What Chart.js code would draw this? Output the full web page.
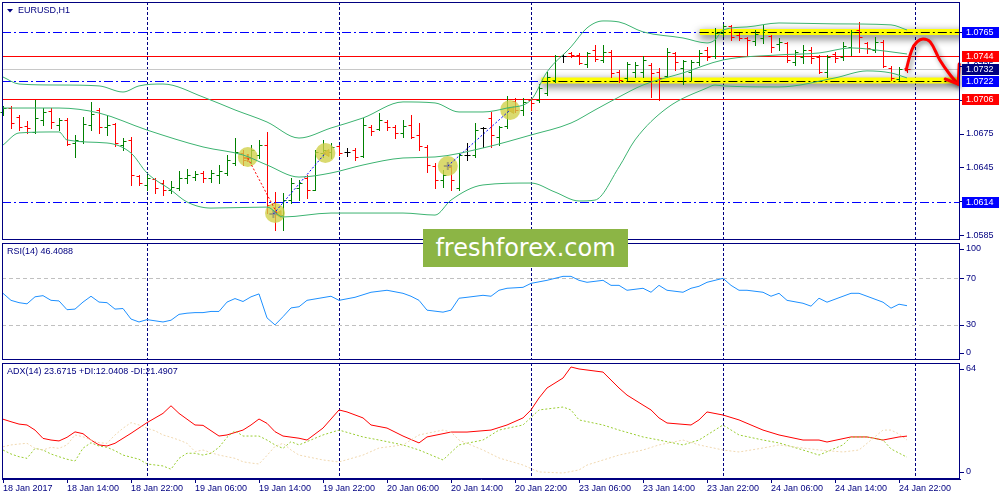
<!DOCTYPE html>
<html><head><meta charset="utf-8">
<script src="https://cdn.jsdelivr.net/npm/chart.js@4.4.1/dist/chart.umd.min.js"></script>
<style>
html,body{margin:0;padding:0;background:#fff;}
body{width:1000px;height:500px;position:relative;overflow:hidden;}
canvas{position:absolute;left:0;}
#wm{position:absolute;left:423px;top:229px;width:205px;height:38px;background:#8cb545;color:#fff;font:24px 'DejaVu Sans',sans-serif;line-height:38px;text-align:center;z-index:5;}
</style></head><body>
<canvas id="c1" width="1000" height="242" style="top:0"></canvas>
<canvas id="c2" width="1000" height="119" style="top:242px"></canvas>
<canvas id="c3" width="1000" height="138" style="top:362px"></canvas>
<div id="wm">freshforex.com</div>
<script>
// ---------------- DATA ----------------
const symbolTitle = 'EURUSD,H1';
const rsiTitle = 'RSI(14) 46.4088';
const adxTitle = 'ADX(14) 23.6715 +DI:12.0408 -DI:21.4907';

const xLabels = ['18 Jan 2017','18 Jan 14:00','18 Jan 22:00','19 Jan 06:00','19 Jan 14:00','19 Jan 22:00','20 Jan 06:00','20 Jan 14:00','20 Jan 22:00','23 Jan 06:00','23 Jan 14:00','23 Jan 22:00','24 Jan 06:00','24 Jan 14:00','24 Jan 22:00'];
const xLabelIdx = [0,8,16,24,32,40,48,56,64,72,80,88,96,104,112];
const daySeparatorIdx = [18,42,66,90,114];

const opens = [1.06941,1.06976,1.06897,1.06817,1.06764,1.06870,1.06950,1.06826,1.06870,1.06666,
1.06684,1.06826,1.06959,1.06808,1.06835,1.06648,1.06693,1.06373,1.06294,1.06347,
1.06311,1.06249,1.06267,1.06356,1.06364,1.06400,1.06356,1.06382,1.06400,1.06489,
1.06577,1.06533,1.06560,1.06648,1.06134,1.06027,1.06160,1.06267,1.06356,1.06249,
1.06577,1.06586,1.06639,1.06586,1.06604,1.06551,1.06808,1.06790,1.06852,1.06808,
1.06755,1.06826,1.06737,1.06631,1.06462,1.06338,1.06453,1.06267,1.06560,1.06560,
1.06799,1.06888,1.06719,1.06817,1.07039,1.06959,1.07047,1.07047,1.07110,1.07225,
1.07438,1.07464,1.07447,1.07367,1.07491,1.07402,1.07473,1.07296,1.07243,1.07296,
1.07296,1.07358,1.07296,1.07260,1.07464,1.07331,1.07296,1.07385,1.07491,1.07438,
1.07642,1.07704,1.07624,1.07597,1.07571,1.07597,1.07615,1.07544,1.07553,1.07385,
1.07429,1.07491,1.07429,1.07296,1.07455,1.07429,1.07518,1.07668,1.07553,1.07491,
1.07562,1.07331,1.07234,1.07331];
const highs = [1.06994,1.06994,1.06914,1.06861,1.07047,1.06976,1.06976,1.06888,1.06888,1.06737,
1.06897,1.07030,1.06976,1.06914,1.06843,1.06710,1.06719,1.06382,1.06382,1.06356,
1.06338,1.06329,1.06418,1.06435,1.06418,1.06418,1.06427,1.06471,1.06560,1.06710,
1.06604,1.06648,1.06693,1.06764,1.06231,1.06223,1.06356,1.06338,1.06382,1.06604,
1.06693,1.06666,1.06648,1.06622,1.06622,1.06888,1.06826,1.06932,1.06870,1.06826,
1.06870,1.06914,1.06843,1.06648,1.06489,1.06427,1.06471,1.06577,1.06666,1.06843,
1.06808,1.06941,1.06817,1.07083,1.07065,1.07065,1.07065,1.07189,1.07296,1.07447,
1.07455,1.07473,1.07464,1.07473,1.07535,1.07535,1.07491,1.07314,1.07385,1.07385,
1.07438,1.07376,1.07331,1.07509,1.07473,1.07402,1.07402,1.07491,1.07518,1.07686,
1.07722,1.07713,1.07642,1.07606,1.07668,1.07713,1.07624,1.07597,1.07562,1.07491,
1.07535,1.07518,1.07447,1.07447,1.07473,1.07562,1.07668,1.07739,1.07562,1.07606,
1.07580,1.07349,1.07340,1.07340];
const lows = [1.06914,1.06799,1.06781,1.06755,1.06755,1.06826,1.06799,1.06781,1.06648,1.06542,
1.06666,1.06781,1.06755,1.06737,1.06639,1.06604,1.06294,1.06294,1.06249,1.06223,
1.06205,1.06223,1.06249,1.06311,1.06338,1.06320,1.06320,1.06311,1.06382,1.06471,
1.06471,1.06489,1.06533,1.06045,1.05894,1.05894,1.06134,1.06160,1.06178,1.06249,
1.06542,1.06533,1.06560,1.06551,1.06515,1.06542,1.06737,1.06781,1.06781,1.06710,
1.06719,1.06710,1.06604,1.06409,1.06267,1.06276,1.06249,1.06249,1.06515,1.06542,
1.06631,1.06631,1.06648,1.06799,1.06941,1.06914,1.06959,1.07030,1.07092,1.07207,
1.07385,1.07429,1.07367,1.07340,1.07393,1.07385,1.07251,1.07207,1.07225,1.07251,
1.07251,1.07074,1.07047,1.07251,1.07314,1.07189,1.07225,1.07358,1.07402,1.07420,
1.07615,1.07580,1.07580,1.07447,1.07535,1.07553,1.07473,1.07491,1.07385,1.07358,
1.07376,1.07376,1.07287,1.07251,1.07385,1.07402,1.07447,1.07473,1.07464,1.07473,
1.07340,1.07225,1.07225,1.07296];
const closes = [1.06976,1.06843,1.06808,1.06799,1.06888,1.06941,1.06852,1.06870,1.06657,1.06693,
1.06835,1.06923,1.06808,1.06826,1.06666,1.06684,1.06382,1.06311,1.06356,1.06267,
1.06249,1.06276,1.06356,1.06382,1.06391,1.06356,1.06400,1.06418,1.06515,1.06586,
1.06515,1.06604,1.06648,1.06116,1.06045,1.06160,1.06311,1.06311,1.06249,1.06586,
1.06604,1.06631,1.06577,1.06586,1.06542,1.06826,1.06772,1.06870,1.06808,1.06755,
1.06817,1.06719,1.06639,1.06471,1.06338,1.06382,1.06338,1.06560,1.06560,1.06781,
1.06799,1.06737,1.06808,1.06976,1.06959,1.07030,1.07021,1.07154,1.07251,1.07438,
1.07438,1.07447,1.07376,1.07464,1.07411,1.07473,1.07287,1.07225,1.07367,1.07358,
1.07402,1.07287,1.07243,1.07473,1.07385,1.07393,1.07385,1.07464,1.07429,1.07642,
1.07704,1.07606,1.07597,1.07580,1.07633,1.07668,1.07518,1.07562,1.07402,1.07473,
1.07491,1.07420,1.07296,1.07429,1.07420,1.07526,1.07651,1.07606,1.07509,1.07562,
1.07349,1.07243,1.07322,1.07322];

const bbUpperIdx = [0,2,7,12,15,17,20,25,29,33,37,41,45,50,54,57,60,63,66,68,71,73,75,77,80,85,88,89,90,93,97,104,111,113];
const bbUpperVal = [1.07251,1.07189,1.07180,1.07172,1.07118,1.07172,1.07189,1.07074,1.06959,1.06852,1.06710,1.06799,1.06888,1.07030,1.07021,1.06941,1.06941,1.06976,1.07047,1.07296,1.07518,1.07686,1.07748,1.07739,1.07651,1.07597,1.07553,1.07580,1.07668,1.07695,1.07730,1.07722,1.07713,1.07668];
const bbMidIdx = [0,7,12,18,25,30,33,37,41,45,50,54,60,66,71,74,77,80,85,90,97,102,106,108,113];
const bbMidVal = [1.06976,1.06976,1.06932,1.06781,1.06631,1.06560,1.06471,1.06364,1.06400,1.06471,1.06533,1.06542,1.06622,1.06737,1.06843,1.06959,1.07074,1.07180,1.07287,1.07402,1.07447,1.07464,1.07509,1.07500,1.07455];
const bbLowIdx = [0,2,7,8,13,16,18,21,23,26,33,35,41,50,54,56,60,66,69,72,74,77,79,83,88,89,90,97,104,108,111,113];
const bbLowVal = [1.06648,1.06755,1.06764,1.06693,1.06666,1.06577,1.06400,1.06249,1.06143,1.06089,1.06098,1.06010,1.06045,1.06045,1.06027,1.06160,1.06294,1.06311,1.06231,1.06152,1.06160,1.06453,1.06693,1.06976,1.07154,1.07180,1.07172,1.07163,1.07243,1.07305,1.07287,1.07243];

const priceTicks = [1.0585,1.0615,1.0645,1.0675,1.0705,1.0735,1.0765];
const levelPrices = [1.0765,1.0744,1.0732,1.0722,1.0706,1.0614];
const levelKinds = ['support','pivot','bid','support','pivot','support'];
const zonePrices = [1.0765,1.0722];
const zoneStartIdx = [87.1,67.3];

const tradeCircleIdx = [30.6,34.0,40.3,55.6,63.4];
const tradeCirclePrice = [1.06542,1.06045,1.06577,1.06462,1.06959];
const sellOpenIdx = [30.6], sellOpenPrice = [1.06533];
const buyOpenIdx = [33.8,55.6], buyOpenPrice = [1.06036,1.06462];
const closeIdx = [34.5,40.5,63.6], closePrice = [1.06036,1.06577,1.06959];
const sellTradeIdx = [30.6,34.3], sellTradePrice = [1.06533,1.06036];
const buyTrade1Idx = [33.8,40.3], buyTrade1Price = [1.06036,1.06577];
const buyTrade2Idx = [55.6,63.4], buyTrade2Price = [1.06462,1.06959];

const forecastIdx = [112.9,113.6,114.25,115,115.9,117.1,118.4,119.4];
const forecastPrice = [1.07314,1.07491,1.07562,1.07589,1.07562,1.07402,1.07269,1.07189];

const rsiIdx = [0,1,2,3,4,5,6,7,8,9,10,11,12,13,14,15,16,17,18,19,20,21,22,23,24,25,26,27,28,29,30,31,32,33,34,35,36,37,
38,41,42,44,46,48,50,51,52,53,55,56,57,58,60,61,62,63,65,66,68,70,71,72,73,75,76,77,78,80,81,82,83,85,86,87,88,90,91,92,93,95,96,97,98,100,101,102,103,105,106,107,108,110,111,112,113];
const rsiVal = [57,51,49,48,54,55,51,50.5,43,43.5,49.5,54.5,49.5,49,43.5,44,35,32.5,34.5,33.5,32.5,34,39,40,40.5,40.5,41.5,41.5,49.5,52.5,50,54,56.5,36,30,37,44.5,45.5,
51,54.5,51,53.6,57.9,59.6,57,54.5,51,42.6,40.9,42.6,52.8,53.6,55.3,54.5,59.6,61.3,62.1,65.5,68.1,71.5,71.5,68.1,66.4,68.1,63.8,63.8,59.6,61.3,57.9,63.8,59.6,57.9,61.3,63,66.4,69.8,63.8,59.6,59.6,57.9,54.5,57,51,48.5,46,52.8,49.4,54.5,57,57,54.5,49.4,44.3,47.7,46.41];
const rsiLevels = [70,30];
const rsiTicks = [100,70,30,0];

const adxIdx = [0,1,2,3,4,5,6,7,8,9,10,11,12,13,14,16,18,20,21,22,24,25,27,28,30,31,32,33,34,35,37,38,40,42,43,45,46,48,50,52,53,56,58,61,63,65,66,67,68,70,71,72,75,76,77,78,80,81,82,83,86,87,88,90,92,95,97,100,102,103,106,108,110,112,113];
const adxVal = [33,31.6,30.3,29.8,27,22.4,21.5,21,23,26,25,21.5,18.8,18.2,19.7,25.2,31.1,36.2,40.4,36.2,29.8,29.6,23.7,24.3,27,29.8,33.1,30.7,26.1,23.7,22.5,21.5,28.1,38.1,37,33.7,29.8,28.1,23.7,19.9,23.2,25.9,25.9,27,29.8,33.7,38.1,44.7,50.2,55.7,61.8,60.7,59,54.6,50.2,46.3,40.8,38.1,33.7,30.9,29.8,32.6,37,35.3,32.6,27,24.3,21.5,21.5,20.4,23.2,23.2,21.5,23.2,23.67];
const pdiIdx = [0,1,2,3,4,5,6,7,8,9,10,11,12,13,14,15,17,18,20,21,22,23,24,25,26,27,28,29,30,32,33,34,35,36,37,40,42,45,47,50,52,55,57,60,62,65,67,70,71,72,75,77,80,82,85,87,90,92,95,97,100,102,105,106,108,110,111,112,113];
const pdiVal = [16,13.8,12.3,11.4,16.9,16,13.8,12.3,10.9,9.9,17,20,18.2,17.5,15.6,13.2,10.9,8.3,7.2,5.4,11.4,14.2,14.2,13.2,14.2,17.5,23,26.6,23.7,23.7,21.5,18.8,16.9,20.6,18.8,24.3,27,23.2,21.5,18.8,16,10.5,18.8,21.5,27,29.8,38.1,39.7,38.1,32.6,29.8,27,23.2,21.5,18.8,21.5,29.8,24.3,21.5,19.9,16,13.2,18.8,23.2,23.2,21.5,16.6,14.3,12.04];
const mdiIdx = [0,1,2,3,4,5,6,7,8,9,10,11,12,13,14,15,16,17,18,19,20,21,22,23,24,25,26,27,28,29,30,31,32,33,34,35,36,37,
40,42,45,47,50,52,55,56,57,60,62,65,67,70,72,73,77,80,82,85,87,90,92,95,97,100,102,105,107,110,111,112,113];
const mdiVal = [17.8,18.8,19.3,19.7,16.9,16,17.5,16.9,18.8,24.3,23.3,21.5,20,19.7,24.3,28,31.1,29.8,28,26.6,24.3,23,21.5,19.7,15.1,16,14.5,13.2,12.3,11.4,9.5,8.8,8.3,13,18,19.7,16,13.2,
10.5,9.4,13.2,17.1,18.8,24.3,27,25.9,21.5,16,11.6,7.7,3.9,3.3,5,7.7,13.2,16,18.8,21.5,18.8,16,14.9,17.1,18.8,17.1,16,14.9,16,27,27,24.8,21.49];
const adxTicks = [64,0];

// ---------------- STYLE / HELPERS ----------------
const NAVY = '#000080';
const FONT = "9px 'Liberation Sans', Arial, sans-serif";
const BULL = '#008000', BEAR = '#ff0000', DOJI = '#000000';
const BB_COLOR = '#3cb371';
const LEVEL_STYLE = {
  support: {color:'#0000ff', dash:[9,3,2,3], box:'#0000ff'},
  pivot:   {color:'#ff0000', dash:[], box:'#ff0000'},
  bid:     {color:'#c8c8c8', dash:[], box:'#000080'}
};
const X_MIN = -0.125, X_MAX = 119.625;
const pts = (xs, ys) => xs.map((x, i) => ({x, y: ys[i]}));
const crisp = v => Math.round(v) + 0.5;
const fixW = s => { s.width = 40; };

function drawSeparators(chart) {
  const {ctx, chartArea: a, scales: {x}} = chart;
  ctx.save(); ctx.strokeStyle = NAVY; ctx.lineWidth = 1; ctx.setLineDash([3,2]);
  daySeparatorIdx.forEach(i => {
    const px = crisp(x.getPixelForValue(i));
    if (px > a.left && px < a.right) { ctx.beginPath(); ctx.moveTo(px, a.top); ctx.lineTo(px, a.bottom); ctx.stroke(); }
  });
  ctx.restore();
}
function drawFrame(chart) {
  const {ctx, chartArea: a} = chart;
  ctx.save(); ctx.strokeStyle = NAVY; ctx.lineWidth = 1;
  ctx.strokeRect(a.left + 0.5, a.top + 0.5, a.right - a.left - 1, a.bottom - a.top - 1);
  ctx.restore();
}
function drawRightTicks(chart, values, fmt, clamp) {
  const {ctx, chartArea: a, scales: {y}} = chart;
  ctx.save(); ctx.strokeStyle = NAVY; ctx.fillStyle = NAVY; ctx.font = FONT;
  ctx.textBaseline = 'middle'; ctx.textAlign = 'left'; ctx.lineWidth = 1;
  values.forEach(v => {
    let py = y.getPixelForValue(v);
    if (clamp) py = Math.min(Math.max(py, a.top + 6), a.bottom - 7);
    ctx.beginPath(); ctx.moveTo(a.right, crisp(py)); ctx.lineTo(a.right + 4, crisp(py)); ctx.stroke();
    ctx.fillText(fmt(v), a.right + 6, py);
  });
  ctx.restore();
}
function drawTitle(chart, text, withArrow) {
  const {ctx, chartArea: a} = chart;
  ctx.save(); ctx.fillStyle = NAVY; ctx.font = FONT; ctx.textBaseline = 'middle'; ctx.textAlign = 'left';
  if (withArrow) {
    ctx.beginPath(); ctx.moveTo(a.left + 5, a.top + 7); ctx.lineTo(a.left + 11, a.top + 7); ctx.lineTo(a.left + 8, a.top + 10.5); ctx.closePath(); ctx.fill();
    ctx.fillText(text, a.left + 16, a.top + 9);
  } else {
    ctx.fillText(text, a.left + 5, a.top + 9);
  }
  ctx.restore();
}

// ---------------- MAIN PRICE CHART ----------------
const FORECAST_DS = 9;
const mainPlugin = {
  id: 'mainPlugin',
  beforeDatasetsDraw(chart) {
    const {ctx, chartArea: a, scales: {x, y}} = chart;
    drawSeparators(chart);
    // horizontal levels
    levelPrices.forEach((p, i) => {
      const st = LEVEL_STYLE[levelKinds[i]];
      const py = crisp(y.getPixelForValue(p));
      ctx.save(); ctx.strokeStyle = st.color; ctx.lineWidth = 1; ctx.setLineDash(st.dash);
      ctx.beginPath(); ctx.moveTo(a.left, py); ctx.lineTo(a.right, py); ctx.stroke(); ctx.restore();
    });
    // yellow zones
    zonePrices.forEach((p, i) => {
      const x0 = x.getPixelForValue(zoneStartIdx[i]);
      const py = y.getPixelForValue(p);
      ctx.save(); ctx.beginPath(); ctx.rect(a.left, a.top, a.right - a.left, a.bottom - a.top); ctx.clip();
      ctx.shadowColor = 'rgba(0,0,0,0.65)'; ctx.shadowBlur = 8; ctx.shadowOffsetY = 3;
      ctx.fillStyle = '#ffff00'; ctx.fillRect(x0, py - 3, a.right - x0 + 20, 6);
      ctx.restore();
      ctx.save(); ctx.strokeStyle = '#000'; ctx.lineWidth = 1.2; ctx.setLineDash([9,3,2,3]);
      ctx.beginPath(); ctx.moveTo(x0, crisp(py)); ctx.lineTo(a.right, crisp(py)); ctx.stroke(); ctx.restore();
    });
    // OHLC bars
    ctx.save(); ctx.lineWidth = 1;
    opens.forEach((o, i) => {
      const c = closes[i];
      ctx.strokeStyle = c > o ? BULL : (c < o ? BEAR : DOJI);
      const px = crisp(x.getPixelForValue(i));
      const yh = Math.round(y.getPixelForValue(highs[i]));
      const yl = Math.round(y.getPixelForValue(lows[i]));
      const yo = crisp(y.getPixelForValue(o));
      const yc = crisp(y.getPixelForValue(c));
      ctx.beginPath();
      ctx.moveTo(px, yh); ctx.lineTo(px, yl + 1);
      ctx.moveTo(px - 3, yo); ctx.lineTo(px, yo);
      ctx.moveTo(px, yc); ctx.lineTo(px + 3, yc);
      ctx.stroke();
    });
    ctx.restore();
  },
  beforeDatasetDraw(chart, args) {
    if (args.index === FORECAST_DS) {
      const ctx = chart.ctx; ctx.save();
      ctx.shadowColor = 'rgba(0,0,0,0.45)'; ctx.shadowBlur = 5; ctx.shadowOffsetX = 2; ctx.shadowOffsetY = 2;
    }
  },
  afterDatasetDraw(chart, args) {
    if (args.index === FORECAST_DS) chart.ctx.restore();
  },
  afterDatasetsDraw(chart) {
    const {ctx, scales: {x, y}} = chart;
    const n = forecastIdx.length - 1;
    const tx = x.getPixelForValue(forecastIdx[n]), ty = y.getPixelForValue(forecastPrice[n]);
    ctx.save(); ctx.strokeStyle = '#ff0000'; ctx.lineWidth = 3; ctx.lineCap = 'round';
    ctx.shadowColor = 'rgba(0,0,0,0.45)'; ctx.shadowBlur = 5; ctx.shadowOffsetX = 2; ctx.shadowOffsetY = 2;
    ctx.beginPath(); ctx.moveTo(tx - 13, ty - 5); ctx.lineTo(tx, ty); ctx.lineTo(tx + 1, ty - 20); ctx.stroke();
    ctx.restore();
  },
  afterDraw(chart) {
    const {ctx, chartArea: a, scales: {y}} = chart;
    drawRightTicks(chart, priceTicks, v => v.toFixed(4), false);
    ctx.save(); ctx.font = FONT; ctx.textBaseline = 'middle'; ctx.textAlign = 'left';
    levelPrices.forEach((p, i) => {
      const st = LEVEL_STYLE[levelKinds[i]];
      const py = Math.round(y.getPixelForValue(p));
      ctx.fillStyle = st.box; ctx.fillRect(a.right + 2, py - 5, 37, 11);
      ctx.fillStyle = '#ffffff'; ctx.fillText(p.toFixed(4), a.right + 6, py + 0.5);
    });
    ctx.restore();
    drawFrame(chart);
    drawTitle(chart, symbolTitle, true);
  }
};

const lineDs = (data, color, width, extra) => Object.assign({data, borderColor: color, borderWidth: width, pointRadius: 0, fill: false}, extra || {});

new Chart(document.getElementById('c1'), {
  type: 'line',
  data: { datasets: [
    lineDs(pts(bbUpperIdx, bbUpperVal), BB_COLOR, 1, {cubicInterpolationMode: 'monotone'}),
    lineDs(pts(bbMidIdx, bbMidVal), BB_COLOR, 1, {cubicInterpolationMode: 'monotone'}),
    lineDs(pts(bbLowIdx, bbLowVal), BB_COLOR, 1, {cubicInterpolationMode: 'monotone'}),
    lineDs(pts(sellTradeIdx, sellTradePrice), '#ff0000', 1, {borderDash: [2,2]}),
    lineDs(pts(buyTrade1Idx, buyTrade1Price), '#0000ff', 1, {borderDash: [2,2]}),
    lineDs(pts(buyTrade2Idx, buyTrade2Price), '#0000ff', 1, {borderDash: [2,2]}),
    {data: pts(tradeCircleIdx, tradeCirclePrice), showLine: false, pointRadius: 10, pointBackgroundColor: 'rgba(208,208,70,0.78)', pointBorderWidth: 0},
    {data: pts(sellOpenIdx.concat(buyOpenIdx), sellOpenPrice.concat(buyOpenPrice)), showLine: false, pointStyle: 'cross', pointRadius: 4, pointBorderWidth: 2, pointBorderColor: ['#ff0000', '#0000ff', '#0000ff']},
    {data: pts(closeIdx, closePrice), showLine: false, pointStyle: 'triangle', pointRotation: -90, pointRadius: 4, pointBackgroundColor: '#e8a030', pointBorderColor: '#c8801c', pointBorderWidth: 1},
    lineDs(pts(forecastIdx, forecastPrice), '#ff0000', 3, {tension: 0.4, borderCapStyle: 'round', borderJoinStyle: 'round'})
  ]},
  options: {
    responsive: false, animation: false, events: [],
    layout: {autoPadding: false, padding: {left: 2, top: 2, right: 0, bottom: 2}},
    plugins: {legend: {display: false}, tooltip: {enabled: false}},
    scales: {
      x: {type: 'linear', min: X_MIN, max: X_MAX, display: false},
      y: {position: 'right', min: 1.05806, max: 1.07916, ticks: {display: false}, grid: {display: false}, border: {display: false}, afterFit: fixW}
    }
  },
  plugins: [mainPlugin]
});

// ---------------- RSI ----------------
function panelPlugin(title, levels, ticks) {
  return {
    id: 'panel',
    beforeDatasetsDraw(chart) {
      const {ctx, chartArea: a, scales: {y}} = chart;
      drawSeparators(chart);
      ctx.save(); ctx.strokeStyle = '#c0c0c0'; ctx.lineWidth = 1; ctx.setLineDash([4,3]);
      levels.forEach(v => { const py = crisp(y.getPixelForValue(v)); ctx.beginPath(); ctx.moveTo(a.left, py); ctx.lineTo(a.right, py); ctx.stroke(); });
      ctx.restore();
    },
    afterDraw(chart) {
      drawRightTicks(chart, ticks, v => String(v), true);
      drawFrame(chart);
      drawTitle(chart, title, false);
    }
  };
}

new Chart(document.getElementById('c2'), {
  type: 'line',
  data: { datasets: [ lineDs(pts(rsiIdx, rsiVal), '#1e90ff', 1) ] },
  options: {
    responsive: false, animation: false, events: [],
    layout: {autoPadding: false, padding: {left: 2, top: 1, right: 0, bottom: 1}},
    plugins: {legend: {display: false}, tooltip: {enabled: false}},
    scales: {
      x: {type: 'linear', min: X_MIN, max: X_MAX, display: false},
      y: {position: 'right', min: 0, max: 100, ticks: {display: false}, grid: {display: false}, border: {display: false}, afterFit: fixW}
    }
  },
  plugins: [panelPlugin(rsiTitle, rsiLevels, rsiTicks)]
});

// ---------------- ADX ----------------
new Chart(document.getElementById('c3'), {
  type: 'line',
  data: { datasets: [
    lineDs(pts(mdiIdx, mdiVal), '#f0d8b0', 1, {borderDash: [2,2]}),
    lineDs(pts(pdiIdx, pdiVal), '#9acd32', 1, {borderDash: [2,2]}),
    lineDs(pts(adxIdx, adxVal), '#ff0000', 1)
  ]},
  options: {
    responsive: false, animation: false, events: [],
    layout: {autoPadding: false, padding: {left: 2, top: 1, right: 0, bottom: 0}},
    plugins: {legend: {display: false}, tooltip: {enabled: false}},
    scales: {
      x: {
        type: 'linear', min: X_MIN, max: X_MAX, position: 'bottom',
        afterBuildTicks: s => { s.ticks = xLabelIdx.map(v => ({value: v})); },
        afterFit: s => { s.height = 21; },
        ticks: {autoSkip: false, maxRotation: 0, minRotation: 0, align: 'start', padding: 0, color: NAVY,
                font: {family: "'Liberation Sans', Arial, sans-serif", size: 9},
                callback: (v, i) => xLabels[i]},
        grid: {drawOnChartArea: false, drawTicks: true, tickLength: 4, color: NAVY},
        border: {display: true, color: NAVY}
      },
      y: {position: 'right', min: 0, max: 64, ticks: {display: false}, grid: {display: false}, border: {display: false}, afterFit: fixW}
    }
  },
  plugins: [panelPlugin(adxTitle, [], adxTicks)]
});
</script>
</body></html>
